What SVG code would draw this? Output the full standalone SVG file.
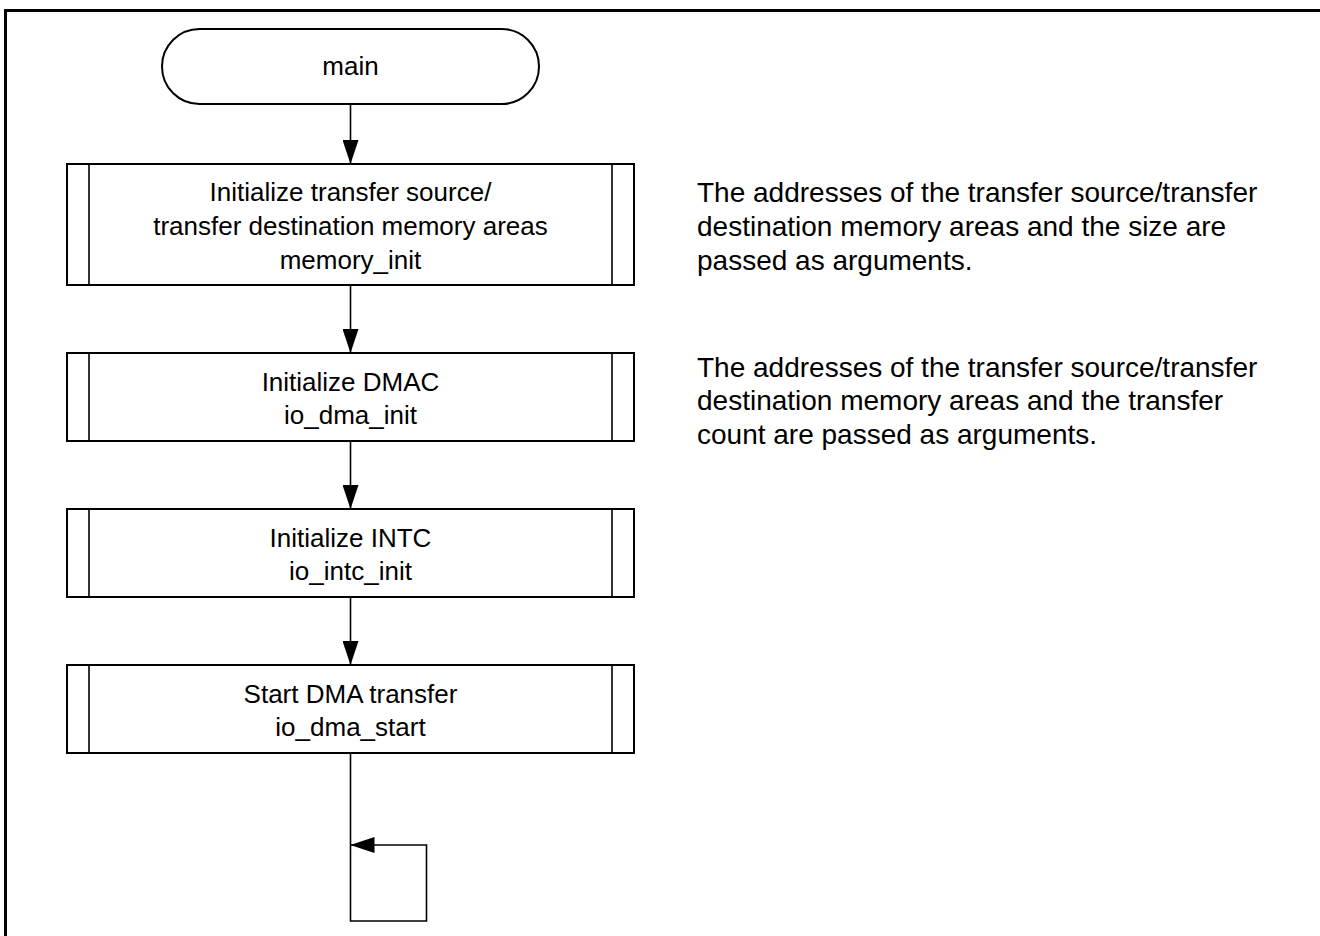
<svg xmlns="http://www.w3.org/2000/svg" width="1320" height="936" viewBox="0 0 1320 936">
<style>
text{font-family:"Liberation Sans",Arial,sans-serif;font-size:26px;fill:#000}
.c{text-anchor:middle}
.note{font-size:28px}
.box{fill:#fff;stroke:#000;stroke-width:2}
.ln{fill:none;stroke:#000;stroke-width:1.6}
.frame{fill:none;stroke:#000;stroke-width:3}
</style>
<defs>
<marker id="arrd" viewBox="0 0 24 16" refX="24" refY="8" markerWidth="24" markerHeight="16" orient="auto" markerUnits="userSpaceOnUse">
<path d="M0,0 L24,8 L0,16 Z" fill="#000"/>
</marker>
</defs>
<rect class="frame" x="5.5" y="10.5" width="1330" height="1000"/>
<g id="connectors">
<line class="ln" x1="350.5" y1="104" x2="350.5" y2="164" marker-end="url(#arrd)"/>
<line class="ln" x1="350.5" y1="285" x2="350.5" y2="353" marker-end="url(#arrd)"/>
<line class="ln" x1="350.5" y1="441" x2="350.5" y2="509" marker-end="url(#arrd)"/>
<line class="ln" x1="350.5" y1="597" x2="350.5" y2="665" marker-end="url(#arrd)"/>
<path class="ln" d="M350.5,753 V921 H426.5 V845 H350.5" marker-end="url(#arrd)"/>
</g>
<g id="main">
<rect class="box" x="162" y="29" width="377" height="75" rx="37.5" ry="37.5"/>
<text class="c" x="350.5" y="75">main</text>
</g>
<g id="memory_init">
<rect class="box" x="67" y="164" width="567" height="121"/>
<line class="ln" x1="89" y1="164" x2="89" y2="285"/>
<line class="ln" x1="612" y1="164" x2="612" y2="285"/>
<text class="c" x="350.5" y="201">Initialize transfer source/</text>
<text class="c" x="350.5" y="235">transfer destination memory areas</text>
<text class="c" x="350.5" y="269">memory_init</text>
</g>
<g id="io_dma_init">
<rect class="box" x="67" y="353" width="567" height="88"/>
<line class="ln" x1="89" y1="353" x2="89" y2="441"/>
<line class="ln" x1="612" y1="353" x2="612" y2="441"/>
<text class="c" x="350.5" y="391">Initialize DMAC</text>
<text class="c" x="350.5" y="424">io_dma_init</text>
</g>
<g id="io_intc_init">
<rect class="box" x="67" y="509" width="567" height="88"/>
<line class="ln" x1="89" y1="509" x2="89" y2="597"/>
<line class="ln" x1="612" y1="509" x2="612" y2="597"/>
<text class="c" x="350.5" y="547">Initialize INTC</text>
<text class="c" x="350.5" y="580">io_intc_init</text>
</g>
<g id="io_dma_start">
<rect class="box" x="67" y="665" width="567" height="88"/>
<line class="ln" x1="89" y1="665" x2="89" y2="753"/>
<line class="ln" x1="612" y1="665" x2="612" y2="753"/>
<text class="c" x="350.5" y="703">Start DMA transfer</text>
<text class="c" x="350.5" y="736">io_dma_start</text>
</g>
<g id="note1">
<text class="note" x="697" y="202">The addresses of the transfer source/transfer</text>
<text class="note" x="697" y="236">destination memory areas and the size are</text>
<text class="note" x="697" y="270">passed as arguments.</text>
</g>
<g id="note2">
<text class="note" x="697" y="377">The addresses of the transfer source/transfer</text>
<text class="note" x="697" y="410">destination memory areas and the transfer</text>
<text class="note" x="697" y="444">count are passed as arguments.</text>
</g>
</svg>
